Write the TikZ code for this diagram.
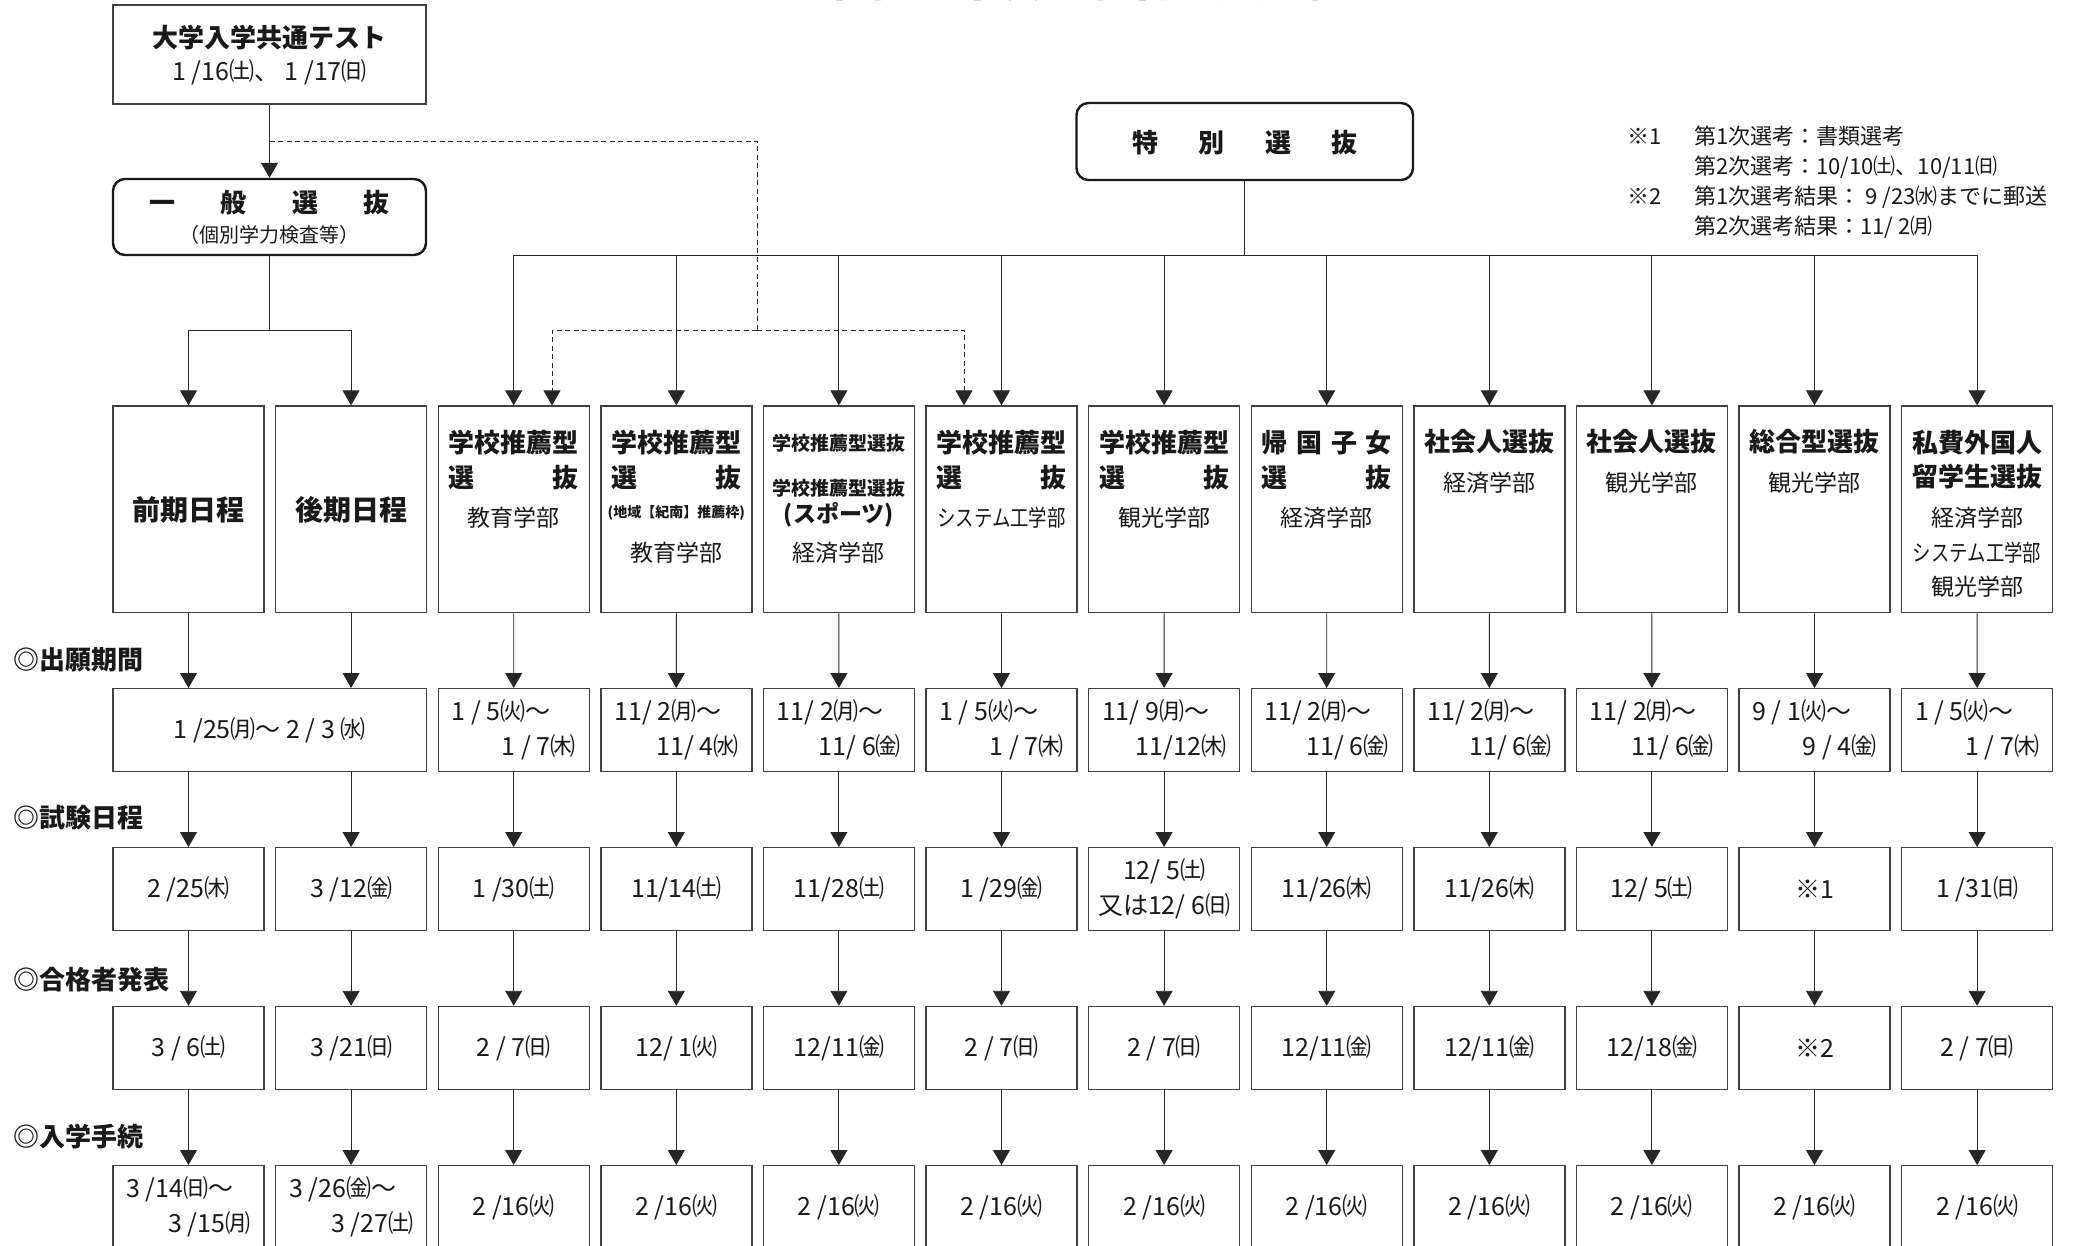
\documentclass[tikz,border=0pt]{standalone}
\usepackage{fontspec}
\setmainfont{Noto Sans CJK JP}
\usepackage{graphicx}
\usetikzlibrary{arrows.meta}
\newcommand\twol[2]{\makebox[124pt][l]{#1}\\\makebox[124pt][r]{#2}}
\newcommand\spr[2]{\makebox[#1][s]{#2}}
\def\colA{188.5}\def\colB{351.1}\def\colC{513.7}\def\colD{676.3}
\def\colE{838.9}\def\colF{1001.5}\def\colG{1164.1}\def\colH{1326.7}
\def\colI{1489.3}\def\colJ{1651.9}\def\colK{1814.5}\def\colL{1977.1}
\def\rowA{509.4}\def\rowB{730.2}\def\rowC{889.2}\def\rowD{1048}\def\rowE{1207.2}
\begin{document}
\begin{tikzpicture}[x=1pt,y=-1pt,
  every node/.style={inner sep=0pt, text=black!90},
  ln/.style={draw=black!85, line width=0.9pt},
  arr/.style={ln, -{Triangle[width=17pt,length=15pt]}},
  dln/.style={ln, dash pattern=on 5pt off 3.5pt},
  darr/.style={arr, dash pattern=on 5pt off 3.5pt},
  bx/.style={draw=black!75, line width=1.4pt, minimum width=151pt, minimum height=83pt, font=\fontsize{25}{35}\selectfont, align=center},
  cat/.style={bx, minimum height=206.7pt},
  rbx/.style={draw=black!90, line width=2.4pt, rounded corners=12pt},
  hd/.style={font=\bfseries\fontsize{26}{30}\selectfont},
  hdb/.style={font=\bfseries\fontsize{28}{30}\selectfont},
  sb/.style={font=\fontsize{23}{26}\selectfont},
  lbl/.style={font=\bfseries\fontsize{26}{30}\selectfont, anchor=west},
]
\useasboundingbox (0,0) rectangle (2081,1246);
\clip (0,0) rectangle (2081,1246);
\fill[white] (0,0) rectangle (2081,1246);

% title (cut off at the top)
\node[font=\bfseries\fontsize{44}{48}\selectfont, anchor=south] (title) at (1085.5,1.5) {令和３年度入学者選抜日程};

% top boxes
\node[draw=black!75, line width=1.2pt, minimum width=313pt, minimum height=99pt] (kt) at (269.5,54.5) {};
\node[hd] (kt1) at (269.5,38) {大学入学共通テスト};
\node[font=\fontsize{25}{28}\selectfont] (kt2) at (269.5,72) {1 /16㈯、 1 /17㈰};

\node[rbx, minimum width=313pt, minimum height=76pt] (ip) at (269.5,217) {};
\node[hd] (ip1) at (269.5,203) {\spr{240pt}{一\hfill 般\hfill 選\hfill 抜}};
\node[font=\fontsize{20}{22}\selectfont] (ip2) at (269.5,235) {（個別学力検査等）};

\node[rbx, minimum width=336.5pt, minimum height=77pt] (tb) at (1244.75,141.5) {};
\node[hd] (tb1) at (1245,143) {\spr{225pt}{特\hfill 別\hfill 選\hfill 抜}};

% notes
\node[anchor=north west, font=\fontsize{22}{30}\selectfont] (notes) at (1627.6,123) {%
\begin{tabular}{@{}p{66.4pt}@{}l@{}}
※1 & 第1次選考：書類選考\\
 & 第2次選考：10/10㈯、10/11㈰\\
※2 & 第1次選考結果： 9 /23㈬までに郵送\\
 & 第2次選考結果：11/ 2㈪
\end{tabular}};

% row labels
\node[lbl] (lb1) at (13,660) {◎出願期間};
\node[lbl] (lb2) at (13,818) {◎試験日程};
\node[lbl] (lb3) at (13,980) {◎合格者発表};
\node[lbl] (lb4) at (13,1137) {◎入学手続};

% row 1 boxes
\foreach \i in {1,...,12} \node[cat] (r1c\i) at ({188.5+162.6*(\i-1)},\rowA) {};

% row 1 texts
\node[hdb] (t1a) at (\colA,510) {前期日程};
\node[hdb] (t2a) at (\colB,510) {後期日程};

\node[hd] (t3a) at (\colC,443) {学校推薦型};
\node[hd] (t3b) at (\colC,478) {\spr{130pt}{選\hfill 抜}};
\node[sb] (t3c) at (\colC,518) {教育学部};

\node[hd] (t4a) at (\colD,443) {学校推薦型};
\node[hd] (t4b) at (\colD,478) {\spr{130pt}{選\hfill 抜}};
\node[font=\bfseries\fontsize{14}{16}\selectfont] (t4c) at (\colD,513) {(地域【紀南】推薦枠)};
\node[sb] (t4d) at (\colD,553) {教育学部};

\node[font=\bfseries\fontsize{19}{22}\selectfont] (t5a) at (\colE,443) {学校推薦型選抜};
\node[font=\bfseries\fontsize{19}{22}\selectfont] (t5b) at (\colE,488) {学校推薦型選抜};
\node[font=\bfseries\fontsize{23}{26}\selectfont] (t5c) at (\colE,515) {(スポーツ)};
\node[sb] (t5d) at (\colE,553) {経済学部};

\node[hd] (t6a) at (\colF,443) {学校推薦型};
\node[hd] (t6b) at (\colF,478) {\spr{130pt}{選\hfill 抜}};
\node[sb] (t6c) at (\colF,518) {\scalebox{0.8}[1]{システム工学部}};

\node[hd] (t7a) at (\colG,443) {学校推薦型};
\node[hd] (t7b) at (\colG,478) {\spr{130pt}{選\hfill 抜}};
\node[sb] (t7c) at (\colG,518) {観光学部};

\node[hd] (t8a) at (\colH,443) {\spr{130pt}{帰\hfill 国\hfill 子\hfill 女}};
\node[hd] (t8b) at (\colH,478) {\spr{130pt}{選\hfill 抜}};
\node[sb] (t8c) at (\colH,518) {経済学部};

\node[hd] (t9a) at (\colI,442) {社会人選抜};
\node[sb] (t9b) at (\colI,483) {経済学部};

\node[hd] (t10a) at (\colJ,442) {社会人選抜};
\node[sb] (t10b) at (\colJ,483) {観光学部};

\node[hd] (t11a) at (\colK,442) {総合型選抜};
\node[sb] (t11b) at (\colK,483) {観光学部};

\node[hd] (t12a) at (\colL,443) {私費外国人};
\node[hd] (t12b) at (\colL,477) {留学生選抜};
\node[sb] (t12c) at (\colL,518) {経済学部};
\node[sb] (t12d) at (\colL,553) {\scalebox{0.8}[1]{システム工学部}};
\node[sb] (t12e) at (\colL,587) {観光学部};

% row 2
\node[bx, minimum width=313.6pt] (r2c1) at (269.8,\rowB) {1 /25㈪～ 2 / 3 ㈬};
\node[bx] (r2c3) at (\colC,\rowB) {\twol{1 / 5㈫～}{1 / 7㈭}};
\node[bx] (r2c4) at (\colD,\rowB) {\twol{11/ 2㈪～}{11/ 4㈬}};
\node[bx] (r2c5) at (\colE,\rowB) {\twol{11/ 2㈪～}{11/ 6㈮}};
\node[bx] (r2c6) at (\colF,\rowB) {\twol{1 / 5㈫～}{1 / 7㈭}};
\node[bx] (r2c7) at (\colG,\rowB) {\twol{11/ 9㈪～}{11/12㈭}};
\node[bx] (r2c8) at (\colH,\rowB) {\twol{11/ 2㈪～}{11/ 6㈮}};
\node[bx] (r2c9) at (\colI,\rowB) {\twol{11/ 2㈪～}{11/ 6㈮}};
\node[bx] (r2c10) at (\colJ,\rowB) {\twol{11/ 2㈪～}{11/ 6㈮}};
\node[bx] (r2c11) at (\colK,\rowB) {\twol{9 / 1㈫～}{9 / 4㈮}};
\node[bx] (r2c12) at (\colL,\rowB) {\twol{1 / 5㈫～}{1 / 7㈭}};

% row 3
\node[bx] (r3c1) at (\colA,\rowC) {2 /25㈭};
\node[bx] (r3c2) at (\colB,\rowC) {3 /12㈮};
\node[bx] (r3c3) at (\colC,\rowC) {1 /30㈯};
\node[bx] (r3c4) at (\colD,\rowC) {11/14㈯};
\node[bx] (r3c5) at (\colE,\rowC) {11/28㈯};
\node[bx] (r3c6) at (\colF,\rowC) {1 /29㈮};
\node[bx] (r3c7) at (\colG,\rowC) {12/ 5㈯\\又は12/ 6㈰};
\node[bx] (r3c8) at (\colH,\rowC) {11/26㈭};
\node[bx] (r3c9) at (\colI,\rowC) {11/26㈭};
\node[bx] (r3c10) at (\colJ,\rowC) {12/ 5㈯};
\node[bx] (r3c11) at (\colK,\rowC) {※1};
\node[bx] (r3c12) at (\colL,\rowC) {1 /31㈰};

% row 4
\node[bx] (r4c1) at (\colA,\rowD) {3 / 6㈯};
\node[bx] (r4c2) at (\colB,\rowD) {3 /21㈰};
\node[bx] (r4c3) at (\colC,\rowD) {2 / 7㈰};
\node[bx] (r4c4) at (\colD,\rowD) {12/ 1㈫};
\node[bx] (r4c5) at (\colE,\rowD) {12/11㈮};
\node[bx] (r4c6) at (\colF,\rowD) {2 / 7㈰};
\node[bx] (r4c7) at (\colG,\rowD) {2 / 7㈰};
\node[bx] (r4c8) at (\colH,\rowD) {12/11㈮};
\node[bx] (r4c9) at (\colI,\rowD) {12/11㈮};
\node[bx] (r4c10) at (\colJ,\rowD) {12/18㈮};
\node[bx] (r4c11) at (\colK,\rowD) {※2};
\node[bx] (r4c12) at (\colL,\rowD) {2 / 7㈰};

% row 5
\node[bx] (r5c1) at (\colA,\rowE) {\twol{3 /14㈰～}{3 /15㈪}};
\node[bx] (r5c2) at (\colB,\rowE) {\twol{3 /26㈮～}{3 /27㈯}};
\foreach \i/\x in {3/\colC,4/\colD,5/\colE,6/\colF,7/\colG,8/\colH,9/\colI,10/\colJ,11/\colK,12/\colL}
  \node[bx] (r5c\i) at (\x,\rowE) {2 /16㈫};

% connectors at top
\draw[arr] (kt) -- (ip);
\coordinate (dA) at (269.5,141);
\coordinate (dC) at (757,330);
\draw[dln] (dA) -| (dC);
\draw[darr] (dC) -| ([xshift=38.3pt]r1c3.north);
\draw[darr] (dC) -| ([xshift=-37.5pt]r1c6.north);

\coordinate (gB) at (269.5,330);
\draw[ln] (ip) -- (gB);
\draw[arr] (gB) -| (r1c1.north);
\draw[arr] (gB) -| (r1c2.north);

\coordinate (sB) at (1244.75,255);
\draw[ln] (tb) -- (sB);
\draw[ln] (r1c3.north |- sB) -- (r1c12.north |- sB);
\foreach \i in {3,...,12} \draw[arr] (r1c\i.north |- sB) -- (r1c\i.north);

% column flows
\draw[arr] (r1c1) -- (r1c1 |- r2c1.north);
\draw[arr] (r1c2) -- (r1c2 |- r2c1.north);
\draw[arr] (r3c1 |- r2c1.south) -- (r3c1);
\draw[arr] (r3c2 |- r2c1.south) -- (r3c2);
\foreach \i in {3,...,12} {
  \draw[arr] (r1c\i) -- (r2c\i);
  \draw[arr] (r2c\i) -- (r3c\i);
}
\foreach \i in {1,...,12} {
  \draw[arr] (r3c\i) -- (r4c\i);
  \draw[arr] (r4c\i) -- (r5c\i);
}
\end{tikzpicture}
\end{document}
